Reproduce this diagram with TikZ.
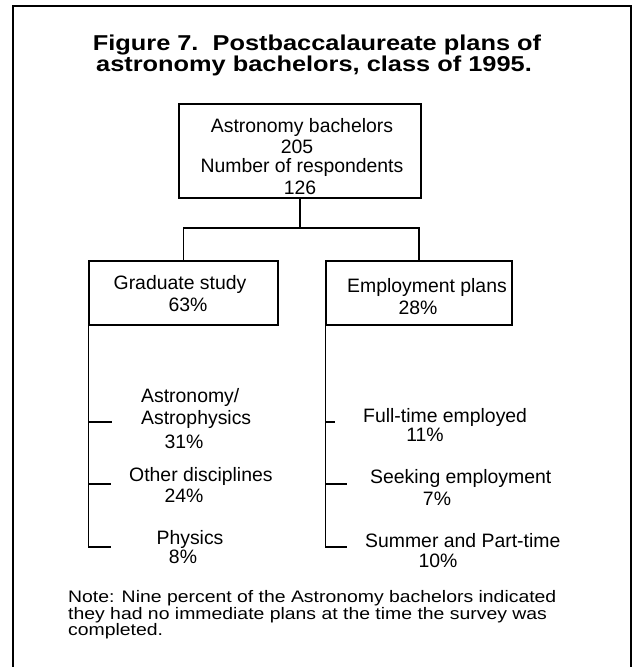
\documentclass[tikz,border=0pt]{standalone}
\usepackage{fontspec}
\setmainfont{Liberation Sans}
\begin{document}
\begin{tikzpicture}[x=1pt,y=-1pt,
  txt/.style={inner sep=0pt, font=\fontsize{19.4}{20}\selectfont},
  ttl/.style={inner sep=0pt, font=\fontsize{21.5}{22}\selectfont\bfseries},
  boxnode/.style={draw, line width=1.5pt, inner sep=0pt},
  frame/.style={line width=1.6pt},
  conn/.style={line width=1.3pt}]
\useasboundingbox (0,0) rectangle (638,667);
% outer frame
\coordinate (fbl) at (13,667);
\coordinate (ftl) at (13,6);
\coordinate (ftr) at (631,6);
\coordinate (fbr) at (631,667);
\draw[frame] (fbl) -- (ftl) -- (ftr) -- (fbr);
% title
\node[ttl, anchor=base] (title1) at (317,50) {\scalebox{1.18}[1]{Figure 7.\ \ Postbaccalaureate plans of}};
\node[ttl, anchor=base] (title2) at (314,71) {\scalebox{1.18}[1]{astronomy bachelors, class of 1995.}};
% boxes
\node[boxnode, minimum width=242pt, minimum height=94pt] (top) at (300,151) {};
\node[boxnode, minimum width=189pt, minimum height=64pt] (gs) at (183.5,293) {};
\node[boxnode, minimum width=186pt, minimum height=64pt] (emp) at (419,293) {};
% box texts
\node[txt, anchor=base] (t1) at (302,132) {Astronomy bachelors};
\node[txt, anchor=base] (t2) at (297,153) {205};
\node[txt, anchor=base] (t3) at (302,172) {Number of respondents};
\node[txt, anchor=base] (t4) at (300,194) {126};
\node[txt, anchor=base] (g1) at (180,289) {Graduate study};
\node[txt, anchor=base] (g2) at (188,311) {63\%};
\node[txt, anchor=base] (e1) at (427,292) {Employment plans};
\node[txt, anchor=base] (e2) at (418,314) {28\%};
% connectors
\coordinate (bus) at (top.south |- 0,228);
\draw[conn] (top.south) -- (bus);
\draw[conn] (gs.north) |- (bus) -| (emp.north);
% left spine
\coordinate (lend) at (gs.south west |- 0,547);
\coordinate (lt1) at (gs.south west |- 0,422);
\coordinate (lt2) at (gs.south west |- 0,484);
\draw[conn] (gs.south west) -- (lend) -- ++(23,0);
\draw[conn] (lt1) -- ++(24,0);
\draw[conn] (lt2) -- ++(23,0);
% right spine
\coordinate (rend) at (emp.south west |- 0,547);
\coordinate (rt1) at (emp.south west |- 0,422);
\coordinate (rt2) at (emp.south west |- 0,484);
\draw[conn] (emp.south west) -- (rend) -- ++(22,0);
\draw[conn] (rt1) -- ++(10,0);
\draw[conn] (rt2) -- ++(22,0);
% left labels
\node[txt, anchor=base west] (l1a) at (141,402) {Astronomy/};
\node[txt, anchor=base west] (l1b) at (141,424) {Astrophysics};
\node[txt, anchor=base] (l1c) at (184,448) {31\%};
\node[txt, anchor=base west] (l2a) at (129,481) {Other disciplines};
\node[txt, anchor=base] (l2b) at (184,502) {24\%};
\node[txt, anchor=base] (l3a) at (190,544) {Physics};
\node[txt, anchor=base] (l3b) at (183,563) {8\%};
% right labels
\node[txt, anchor=base west] (r1a) at (363,422) {Full-time employed};
\node[txt, anchor=base] (r1b) at (425,441) {11\%};
\node[txt, anchor=base west] (r2a) at (370,483) {Seeking employment};
\node[txt, anchor=base] (r2b) at (437,505) {7\%};
\node[txt, anchor=base west] (r3a) at (365,547) {Summer and Part-time};
\node[txt, anchor=base] (r3b) at (438,567) {10\%};
% note
\node[txt, anchor=base west] (n1) at (68,602) {\scalebox{1}[0.86]{Note: Nine percent of the Astronomy bachelors indicated}};
\node[txt, anchor=base west] (n2) at (68,619) {\scalebox{1}[0.86]{they had no immediate plans at the time the survey was}};
\node[txt, anchor=base west] (n3) at (68,635) {\scalebox{1}[0.86]{completed.}};
\end{tikzpicture}
\end{document}
